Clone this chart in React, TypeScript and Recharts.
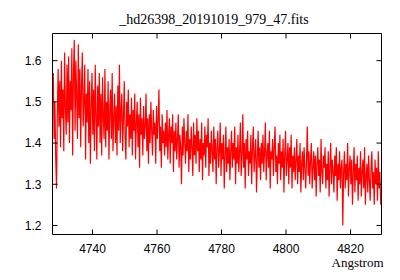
import React from 'react';
import { LineChart, Line, XAxis, YAxis } from 'recharts';

const TITLE = '_hd26398_20191019_979_47.fits';
const X_LABEL = 'Angstrom';
const WAVE_START = 4727.6;
const WAVE_STEP = 0.25;
const X_TICKS = [4740, 4760, 4780, 4800, 4820];
const Y_TICKS = [1.2, 1.3, 1.4, 1.5, 1.6];
const X_DOMAIN = [4727.6, 4829.6];
const Y_DOMAIN = [1.178, 1.666];

const FLUX_1 = [
  1.52, 1.57, 1.41, 1.50, 1.36, 1.29, 1.47, 1.58, 1.44, 1.55, 1.39, 1.60, 1.46, 1.53, 1.38, 1.62, 1.49, 1.42, 1.59, 1.45,
  1.61, 1.40, 1.55, 1.48, 1.63, 1.37, 1.57, 1.65, 1.43, 1.60, 1.51, 1.41, 1.64, 1.46, 1.58, 1.39, 1.54, 1.62, 1.44, 1.50,
  1.59, 1.36, 1.52, 1.45, 1.58, 1.40, 1.55, 1.35, 1.49, 1.57, 1.42, 1.53, 1.38, 1.59, 1.47, 1.36, 1.54, 1.44, 1.57, 1.40,
  1.52, 1.37, 1.56, 1.46, 1.41, 1.58, 1.39, 1.50, 1.43, 1.55, 1.36, 1.48, 1.53, 1.41, 1.57, 1.38, 1.46, 1.52, 1.40, 1.49,
  1.37, 1.54, 1.43, 1.59, 1.40, 1.48, 1.52, 1.38, 1.46, 1.55, 1.42, 1.36, 1.50, 1.44, 1.53, 1.39, 1.47, 1.41, 1.51, 1.37,
];
const FLUX_2 = [
  1.48, 1.43, 1.52, 1.36, 1.45, 1.50, 1.39, 1.47, 1.34, 1.51, 1.42, 1.46, 1.37, 1.49, 1.41, 1.44, 1.52, 1.38, 1.46, 1.35,
  1.47, 1.40, 1.50, 1.43, 1.37, 1.48, 1.42, 1.45, 1.35, 1.49, 1.41, 1.46, 1.53, 1.38, 1.44, 1.34, 1.47, 1.40, 1.43, 1.37,
  1.45, 1.39, 1.48, 1.36, 1.42, 1.46, 1.35, 1.44, 1.40, 1.47, 1.33, 1.43, 1.38, 1.45, 1.36, 1.41, 1.47, 1.34, 1.42, 1.39,
  1.30, 1.44, 1.37, 1.46, 1.40, 1.35, 1.43, 1.38, 1.47, 1.33, 1.41, 1.36, 1.44, 1.39, 1.32, 1.45, 1.37, 1.42, 1.35, 1.46,
  1.38, 1.43, 1.33, 1.41, 1.36, 1.45, 1.31, 1.40, 1.37, 1.44, 1.34, 1.42, 1.39, 1.46, 1.32, 1.40, 1.35, 1.43, 1.38, 1.33,
];
const FLUX_3 = [
  1.44, 1.36, 1.41, 1.30, 1.39, 1.43, 1.34, 1.38, 1.45, 1.32, 1.40, 1.36, 1.42, 1.29, 1.37, 1.44, 1.33, 1.39, 1.35, 1.41,
  1.31, 1.38, 1.43, 1.34, 1.40, 1.36, 1.44, 1.30, 1.39, 1.35, 1.42, 1.33, 1.38, 1.45, 1.32, 1.37, 1.47, 1.34, 1.40, 1.29,
  1.41, 1.36, 1.43, 1.32, 1.38, 1.35, 1.42, 1.30, 1.39, 1.44, 1.33, 1.37, 1.41, 1.28, 1.36, 1.43, 1.34, 1.39, 1.31, 1.40,
  1.35, 1.42, 1.33, 1.38, 1.45, 1.31, 1.37, 1.40, 1.34, 1.43, 1.29, 1.38, 1.36, 1.41, 1.32, 1.39, 1.44, 1.33, 1.37, 1.30,
  1.40, 1.35, 1.42, 1.31, 1.38, 1.34, 1.41, 1.28, 1.37, 1.43, 1.32, 1.36, 1.40, 1.30, 1.39, 1.34, 1.42, 1.29, 1.37, 1.33,
];
const FLUX_4 = [
  1.39, 1.31, 1.36, 1.41, 1.30, 1.37, 1.33, 1.40, 1.28, 1.35, 1.38, 1.31, 1.39, 1.34, 1.29, 1.36, 1.44, 1.32, 1.38, 1.30,
  1.36, 1.40, 1.29, 1.34, 1.38, 1.31, 1.37, 1.27, 1.35, 1.39, 1.32, 1.36, 1.28, 1.41, 1.33, 1.30, 1.37, 1.34, 1.39, 1.29,
  1.35, 1.31, 1.38, 1.27, 1.34, 1.40, 1.30, 1.36, 1.33, 1.28, 1.37, 1.32, 1.39, 1.26, 1.35, 1.31, 1.38, 1.29, 1.34, 1.36,
  1.20, 1.33, 1.38, 1.29, 1.35, 1.31, 1.40, 1.27, 1.34, 1.37, 1.30, 1.36, 1.25, 1.33, 1.39, 1.28, 1.35, 1.31, 1.37, 1.26,
  1.34, 1.30, 1.38, 1.27, 1.33, 1.36, 1.29, 1.39, 1.25, 1.32, 1.35, 1.28, 1.37, 1.31, 1.26, 1.34, 1.38, 1.29, 1.33, 1.25,
  1.36, 1.30, 1.34, 1.26, 1.38, 1.29, 1.33, 1.25, 1.27,
];
const FLUX = [...FLUX_1, ...FLUX_2, ...FLUX_3, ...FLUX_4];

const data = FLUX.map((f, i) => ({ w: WAVE_START + i * WAVE_STEP, f }));

const tickFont = { fontFamily: 'Liberation Sans', fontSize: 12, fill: '#000' };
const serif = 'Liberation Serif';
const Empty = () => <g />;

export default function App() {
  return (
    <div style={{ position: 'fixed', left: 0, top: 0, width: 400, height: 280, background: '#fff' }}>
      <LineChart width={400} height={280} data={data}
        margin={{ top: 23.5, right: 8.5, bottom: 15.5, left: 12.5 }}>
        <XAxis xAxisId="b" dataKey="w" type="number" domain={X_DOMAIN} ticks={X_TICKS}
          allowDataOverflow height={30} orientation="bottom" tickSize={-5} tickMargin={15}
          stroke="#000" tick={tickFont}
          label={{
            content: (p: any) => (
              <text x={p.viewBox.x + p.viewBox.width + 2} y={p.viewBox.y + 32}
                textAnchor="end" fontFamily={serif} fontSize={13} fill="#000">{X_LABEL}</text>
            ),
          }} />
        <XAxis xAxisId="t" dataKey="w" type="number" domain={X_DOMAIN} ticks={X_TICKS}
          allowDataOverflow height={10} orientation="top" tickSize={-5}
          stroke="#000" tick={Empty}
          label={{
            content: (p: any) => (
              <text x={p.viewBox.x + p.viewBox.width / 2 - 3} y={p.viewBox.y + p.viewBox.height - 10}
                textAnchor="middle" fontFamily={serif} fontSize={14} fill="#000">{TITLE}</text>
            ),
          }} />
        <YAxis yAxisId="l" type="number" domain={Y_DOMAIN} ticks={Y_TICKS} allowDataOverflow
          width={40} orientation="left" tickSize={-5} tickMargin={16} stroke="#000" tick={tickFont} />
        <YAxis yAxisId="r" type="number" domain={Y_DOMAIN} ticks={Y_TICKS} allowDataOverflow
          width={10} orientation="right" tickSize={-5} stroke="#000" tick={Empty} />
        <Line xAxisId="b" yAxisId="l" dataKey="f" type="linear" stroke="#ff0000"
          strokeWidth={1.2} dot={false} isAnimationActive={false} />
      </LineChart>
    </div>
  );
}
